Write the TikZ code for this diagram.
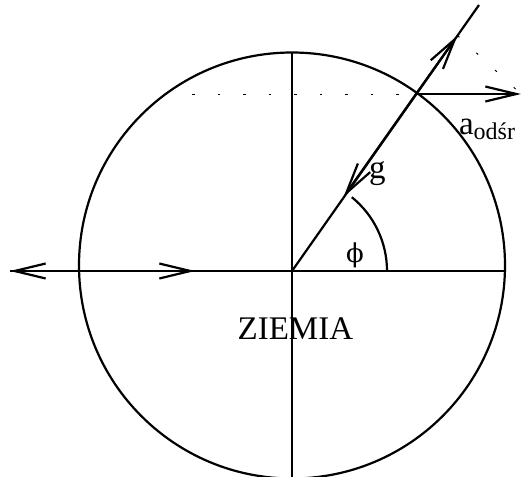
\documentclass[tikz,border=0pt]{standalone}
\usepackage{fontspec}
\setmainfont{Liberation Serif}
\newfontfamily\phifont{DejaVu Serif}
\usetikzlibrary{arrows.meta}

\begin{document}
\begin{tikzpicture}[
    x=1pt, y=-1pt,
    line width=2.2pt,
    vec/.style={-{Straight Barb[length=31pt, width=15pt]}},
    aux/.style={line width=1pt, dash pattern=on 2.5pt off 23pt},
    lbl/.style={inner sep=0pt, font=\fontsize{33}{38}\selectfont}
]
\useasboundingbox (0,0) rectangle (523,477);

% points
\coordinate (C) at (292,265.5);
\coordinate (O) at (292,271);
\coordinate (N) at (292,52.5);
\coordinate (S) at (292,477);
\coordinate (W) at (79,271);
\coordinate (E) at (505,271);
\coordinate (Wl) at (10,271);
\coordinate (Wr) at (195,271);
\coordinate (P) at (416,94);
\coordinate (T) at (479,5);
\coordinate (Pu) at (457.5,35.5);
\coordinate (Pg) at (343.5,197);
\coordinate (Ph) at (521,94);
\coordinate (D) at (192,94);

% earth and axes
\draw (C) circle[radius=213];
\draw (N) -- (S);
\draw (Wl) -- (E);
\draw (O) -- (T);
\draw (O) ++(95,0) arc[start angle=0, end angle=-51, radius=95];

% vectors
\draw[vec] (W) -- (Wl);
\draw[vec] (W) -- (Wr);
\draw[vec] (P) -- (Pu);
\draw[vec] (P) -- (Pg);
\draw[vec] (P) -- (Ph);
\draw[aux] (D) -- (P);
\draw[aux] (Pu) -- (Ph);

% labels
\node[lbl, anchor=base west] (g) at (368,178) {g};
\node[lbl, anchor=base] (phi) at (355,262) {\phifont\fontsize{26}{30}\selectfont ϕ};
\node[lbl, anchor=base] (ziemia) at (295.4,339) {ZIEMIA};
\node[lbl, anchor=base west] (aodsr) at (458,134) {a\raisebox{-5pt}{\fontsize{24}{28}\selectfont odśr}};

\end{tikzpicture}
\end{document}
